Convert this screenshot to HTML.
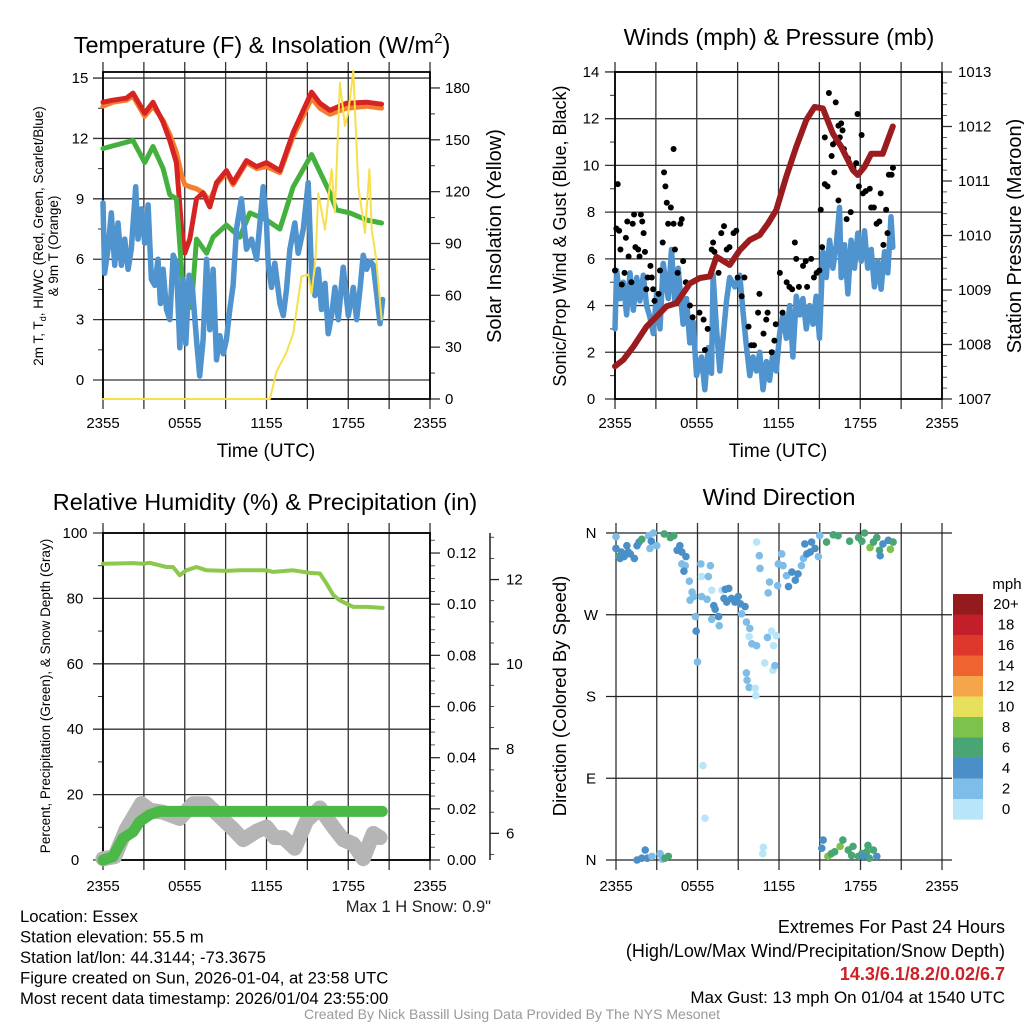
<!DOCTYPE html>
<html><head><meta charset="utf-8"><style>
html,body{margin:0;padding:0;background:#fff;}
svg{display:block;font-family:"Liberation Sans",Arial,sans-serif;}
</style></head><body>
<svg id="fig" width="1024" height="1024" viewBox="0 0 1024 1024" xmlns="http://www.w3.org/2000/svg"></svg>
<script>
// ---------- DATA ----------
// Panel 1: temperature (F) and insolation
const tRedTime=[0,0.73,1.71,2.2,3.06,3.67,4.41,4.9,5.39,5.76,6.0,6.37,6.86,7.35,7.84,8.33,9.06,9.55,10.53,11.27,12.0,12.98,13.96,15.31,15.92,16.65,17.88,19.35,20.45];
const tRedVal=[13.8,13.9,14.0,14.25,13.25,13.8,12.8,11.9,10.8,7.6,6.3,7.0,9.0,9.3,8.6,9.8,10.4,9.8,10.9,10.6,10.8,10.4,12.3,14.3,13.75,13.4,13.75,13.8,13.7];
const tOrangeVal=[13.6,13.8,13.9,14.1,13.1,13.6,12.9,12.2,11.3,10.2,9.7,9.6,9.5,9.3,8.9,9.7,10.3,9.7,10.8,10.5,10.6,10.3,12.1,14.0,13.5,13.2,13.5,13.6,13.5];
const tdTime=[0,2.2,3.06,3.67,4.41,4.9,5.39,5.88,6.49,6.86,7.6,8.08,9.06,10.04,10.78,12.0,12.98,13.96,15.31,16.65,17.14,18.12,19.35,20.45];
const tdVal=[11.5,11.9,10.8,11.6,10.5,9.2,9.0,4.5,3.6,7.0,6.3,7.1,7.7,7.1,8.3,7.95,7.5,9.6,11.2,9.3,8.45,8.3,7.95,7.8];
const wcTime=[0,0.12,0.37,0.61,0.86,1.1,1.35,1.59,1.84,2.08,2.4,2.57,2.82,3.06,3.31,3.55,3.8,4.04,4.21,4.41,4.66,4.9,5.15,5.39,5.64,5.88,6.08,6.32,6.57,6.86,7.1,7.35,7.6,7.84,8.08,8.33,8.58,8.82,9.06,9.31,9.55,9.8,10.16,10.53,10.9,11.27,11.76,12.0,12.12,12.37,12.61,12.98,13.23,13.47,13.72,14.08,14.33,14.7,15.06,15.31,15.55,15.8,16.04,16.29,16.53,16.78,17.02,17.27,17.63,18.0,18.37,18.61,18.86,19.1,19.35,19.6,19.84,20.08,20.33,20.52];
const wcVal=[8.8,5.3,6.5,8.3,5.7,7.8,5.7,7,5.5,6.5,9.6,7,8.5,6.8,8.7,5,4.7,6,3.8,5.5,3.5,3,6.2,5.8,1.6,5.0,1.8,5.2,4.5,2,0.2,2,6,2.5,5.5,1,2.2,1.3,2,3.5,4.7,7.5,9,6.5,7,6,9.6,7.8,5.8,4.6,5.8,3.8,3.2,4.5,6.5,7.8,6.3,7.5,9.8,5.2,4.2,5.5,3.5,4.8,2.3,3.2,4.6,3,5.6,3.2,4.6,3,4.5,6.2,5.5,5.9,5.7,4.3,2.8,4];
const solTime=[0,12.25,12.74,13.47,13.96,14.57,15.06,15.31,15.6,15.8,16.29,16.78,17.02,17.39,17.76,18.0,18.37,18.74,19.23,19.55,19.72,20.05,20.45];
const solVal=[0,0,16,27,38,71,72,61,81,119,98,133,108,183,158,166,190,123,96,133,98,81,46];
const tempTicks=[0,3,6,9,12,15];
const solTicks=[0,30,60,90,120,150,180];
const timeTickLabels=["2355","","0555","","1155","","1755","","2355"];

// Panel 2: winds and pressure
const presTime=[0,0.61,1.34,2.32,2.93,3.78,4.52,5.49,6.23,6.96,7.45,8.42,9.16,9.89,10.62,11.23,11.84,12.57,13.31,14.04,14.65,15.26,15.99,16.6,17.46,17.82,18.31,18.8,19.65,20.39];
const presVal=[1007.6,1007.72,1007.96,1008.33,1008.48,1008.7,1008.76,1009.12,1009.22,1009.25,1009.61,1009.46,1009.73,1009.92,1010.01,1010.22,1010.47,1011.08,1011.63,1012.12,1012.36,1012.33,1011.87,1011.63,1011.2,1011.11,1011.26,1011.5,1011.5,1012.0];
const windTime=[0,0.12,0.37,0.61,0.85,1.1,1.34,1.59,1.83,2.08,2.32,2.56,2.81,3.05,3.3,3.54,3.91,4.15,4.39,4.64,5.0,5.25,5.49,5.74,5.98,6.35,6.59,6.84,7.08,7.2,7.45,7.69,7.93,8.18,8.42,8.79,9.16,9.4,9.64,9.89,10.13,10.38,10.62,10.86,11.11,11.35,11.6,11.84,12.08,12.33,12.57,12.82,13.06,13.31,13.55,13.79,14.04,14.28,14.53,14.77,15.01,15.26,15.5,15.75,15.99,16.24,16.48,16.6,16.85,17.09,17.33,17.58,17.82,18.07,18.31,18.55,18.8,19.04,19.29,19.53,19.78,20.02,20.26,20.39];
const windVal=[3.0,5.5,4.3,5.0,3.6,5.4,3.8,5.2,4.2,5.3,4.0,3.5,2.8,4.5,3.0,5.8,4.3,6.4,4.2,5.6,3.2,4.3,2.4,3.3,1.0,1.8,0.4,2.2,1.1,5.3,3.0,1.2,2.6,4.2,5.2,4.8,5.3,3.7,2.3,1.0,1.8,1.2,2.0,0.4,1.6,0.8,2.0,1.2,2.8,3.6,2.6,4.0,1.8,4.4,3.6,4.3,3.0,4.0,3.2,4.4,2.6,6.3,5.2,6.8,5.6,6.6,8.2,5.2,6.6,4.5,6.8,5.6,7.1,5.9,7.2,5.6,6.4,4.8,5.9,4.7,6.3,5.4,7.8,6.5];
const gustTime=[0,0.1,0.2,0.3,0.4,0.5,0.7,0.8,0.9,1.0,1.2,1.3,1.4,1.5,1.7,1.8,1.9,2.0,2.1,2.2,2.3,2.4,2.6,2.7,2.8,2.9,3.2,3.3,3.5,3.6,3.7,3.8,3.9,4.1,4.3,4.3,4.4,4.6,4.8,4.9,5.0,5.2,5.5,5.7,6.2,6.5,6.6,6.8,7.1,7.2,7.3,7.6,7.8,8.0,8.2,8.4,8.7,8.9,9.0,9.3,9.5,9.8,10.0,10.2,10.5,10.6,10.9,11.1,11.2,11.5,11.7,11.8,12.1,12.3,12.6,12.8,13.0,13.2,13.3,13.5,13.8,14.0,14.1,14.4,14.6,14.8,15.0,15.1,15.2,15.4,15.4,15.6,15.7,15.9,16.0,16.1,16.2,16.2,16.4,16.4,16.5,16.6,16.7,16.8,17.0,17.1,17.3,17.5,17.7,17.8,17.9,18.1,18.2,18.4,18.7,18.8,19.0,19.2,19.4,19.5,19.7,19.9,20.0,20.1,20.3,20.4];
const gustVal=[5.5,7.3,9.2,7.2,6.4,4.9,5.4,6.9,7.6,6.1,5.0,7.5,7.9,6.5,6.4,6.1,7.9,7.6,7.1,6.3,4.7,5.2,5.7,5.2,4.7,4.2,4.5,5.5,6.7,9.7,9.1,8.4,7.5,8.2,7.5,10.7,6.4,5.4,7.5,7.7,5.9,5.0,4.0,3.5,3.7,3.4,2.1,3.0,6.4,6.7,6.3,5.4,7.1,7.4,6.4,6.5,7.1,7.2,5.2,4.4,5.2,3.1,2.3,2.3,3.7,4.5,2.8,3.4,3.7,2.0,2.5,3.2,5.4,3.7,5.0,4.8,4.7,6.7,6.0,4.8,5.7,5.9,4.8,6.0,5.2,5.4,5.5,8.1,6.5,11.2,9.2,9.1,13.1,10.4,10.9,9.7,11.0,12.7,11.7,8.5,11.2,11.8,11.5,10.7,7.7,10.3,8.0,9.9,10.1,12.2,9.1,11.3,8.8,8.9,9.0,8.2,8.2,7.5,7.6,8.8,6.6,8.1,7.1,9.6,9.6,9.9];
const windTicks=[0,2,4,6,8,10,12,14];
const presTicks=[1007,1008,1009,1010,1011,1012,1013];

// Panel 3: RH, precip, snow depth
const rhTime=[0,2.2,2.94,3.43,4.65,5.14,5.63,6.12,6.86,7.59,9.06,10.04,12.0,12.49,13.96,15.18,15.92,16.41,16.9,17.39,18.37,19.35,20.52];
const rhVal=[90.6,90.8,90.6,90.9,89.6,89.6,87.1,88.6,89.6,88.6,88.4,88.6,88.6,88.1,88.6,87.8,87.6,84.5,81,79.4,77.4,77.4,77.1];
const prTime=[0,0.73,1.47,2.2,2.69,3.43,4.16,20.5];
const prVal=[0,0.0013,0.0085,0.011,0.015,0.0177,0.019,0.019];
const snTime=[0,0.86,1.71,2.82,3.43,4.41,5.63,6.61,7.59,8.57,9.55,10.29,11.27,12.0,12.61,13.23,14.08,14.94,15.92,16.9,17.63,18.37,19.1,19.84,20.33];
const snVal=[5.4,5.45,6.1,6.7,6.55,6.5,6.35,6.7,6.7,6.4,6.1,5.85,6.05,6.15,5.9,5.9,5.65,6.3,6.6,6.15,5.85,5.75,5.4,6.0,5.9];
const rhTicks=[0,20,40,60,80,100];
const prTicks=[0,0.02,0.04,0.06,0.08,0.10,0.12];
const prTickLabels=["0.00","0.02","0.04","0.06","0.08","0.10","0.12"];
const snTicks=[6,8,10,12];

// Panel 4: wind direction
const wdTime=[0,0,0.2,0.3,0.4,0.6,0.8,0.9,1.05,1.35,1.55,1.7,1.9,2.4,2.5,2.6,2.75,3.0,3.55,4.0,4.25,4.5,4.7,4.85,5.15,4.85,5.1,5.0,5.4,5.6,5.7,5.45,5.85,5.9,6.0,6.25,6.3,6.3,6.7,6.8,6.95,7.05,7.2,7.05,7.3,7.55,7.6,7.8,8.05,8.3,7.95,8.15,8.5,8.75,9.0,9.15,9.25,9.5,9.6,9.85,9.8,10.0,10.35,9.6,9.65,9.8,10.25,10.3,10.55,10.6,11.3,11.2,11.15,11.45,11.8,11.6,10.95,11.55,11.7,11.9,11.95,12.2,12.3,12.55,12.7,12.95,13.2,13.4,13.65,13.8,13.9,14.05,14.3,14.4,14.65,14.9,15.0,15.5,16.0,16.35,17.2,17.85,18.1,18.3,18.7,18.95,19.2,19.4,19.45,19.65,20.05,20.2,20.4,10.35,1.55,1.9,2.15,2.3,2.65,3.25,3.4,3.6,3.85,6.4,6.55,10.8,10.85,15.25,15.15,15.6,15.85,16.1,16.5,16.7,17.1,17.35,17.45,17.85,18.1,18.45,18.55,18.65,18.95,19.2,18.2];
const wdDir=[356,343,334,332,339,334,346,339,337,332,346,350,353,357,343,351,360,346,359,355,357,341,346,339,334,326,324,318,307,295,290,286,268,252,218,326,312,290,287,312,324,297,280,265,276,268,258,297,298,299,288,284,288,284,290,282,271,279,262,255,246,238,236,206,198,190,189,181,335,321,306,294,245,252,247,236,217,209,214,302,326,337,324,313,301,317,308,315,324,332,348,337,339,350,343,334,357,350,358,357,351,355,351,360,344,350,355,341,335,348,352,342,350,350,0,2,11,2,4,7,1,2,4,104,46,7,14,22,13,4,7,9,15,22,11,5,15,4,7,9,16,2,11,4,4];
const wdSpeed=[3,5,7,5,5,5,5,5,5,5,5,5,7,3,3,5,3,3,7,7,7,5,5,5,5,3,3,5,3,3,3,3,3,5,3,3,1,3,3,3,3,1,5,3,5,5,3,1,5,5,5,5,5,5,5,5,3,5,3,3,1,3,3,3,3,3,1,1,3,3,3,3,3,1,1,1,1,1,3,3,3,3,3,3,5,5,5,5,3,3,5,5,5,5,5,3,3,7,7,7,7,7,7,7,9,7,7,7,5,5,5,9,7,1,5,5,5,5,3,3,3,7,7,1,1,1,1,5,5,9,7,7,9,7,7,7,7,7,7,7,7,7,7,5,5];
const dirTicks=[0,90,180,270,360];
const dirTickLabels=["N","E","S","W","N"];
const cbLabels=["20+","18","16","14","12","10","8","6","4","2","0"];
const cbColors=["#931a1d","#c21f2a","#dd382b","#ee6330","#f5a64a","#e6e05c","#7cc24b","#49a573","#4a8fc8","#7ebde7","#b8e5f8"];

// ---------- DRAWING ----------
const svg=document.getElementById('fig');
const NS='http://www.w3.org/2000/svg';
const TICK=15;
function mk(tag,attrs,parent){const e=document.createElementNS(NS,tag);for(const k in attrs)e.setAttribute(k,attrs[k]);(parent||svg).appendChild(e);return e;}
function txt(s,x,y,size,anchor,parent,extra){const e=mk('text',Object.assign({x:x,y:y,'font-size':size,'text-anchor':anchor||'middle',fill:'#000'},extra||{}),parent);e.textContent=s;return e;}
function lin(x1,y1,x2,y2,st,w,parent){return mk('line',{x1:x1,y1:y1,x2:x2,y2:y2,stroke:st,'stroke-width':w},parent);}
function poly(xs,ys,sx,sy,col,w,parent){let d='';for(let i=0;i<xs.length;i++){d+=(i?'L':'M')+sx(xs[i]).toFixed(1)+','+sy(ys[i]).toFixed(1);}return mk('path',{d:d,fill:'none',stroke:col,'stroke-width':w,'stroke-linejoin':'round','stroke-linecap':'round'},parent);}

function timeAxis(g,x0,x1,yBot,yTop,labY){
  const sx=h=>x0+(x1-x0)*h/24;
  for(let i=0;i<=8;i++){
    const x=sx(i*3);
    const l=lin(x,yTop-10,x,yBot+10,'#333',1.3,g);
    
    
    if(timeTickLabels[i]){
      const t=txt(timeTickLabels[i],x,labY,TICK,'middle',g);
      
      
    }
  }
  return sx;
}

// ===== Panel 1 =====
(function(){
  const g=mk('g',{});
  
  
  const X0=103,X1=430,YT=72,YB=399;
  const sy=v=>380-v*20.13;
  const sy2=v=>399-v*1.728;
  const sx=timeAxis(g,X0,X1,YB,YT,428);
  tempTicks.forEach(v=>{const y=sy(v);lin(X0-10,y,X1,y,'#333',1.3,g);const t=txt(String(v),80,y+5,TICK,'middle',g);});
  for(let v=1.5;v<15;v+=3){lin(X0-5,sy(v),X0,sy(v),'#333',1,g);}
  solTicks.forEach(v=>{const y=sy2(v);lin(X1,y,X1+10,y,'#333',1.3,g);const t=txt(String(v),445,y+5,TICK,'start',g);});
  for(let v=15;v<190;v+=30){lin(X1,sy2(v),X1+5,sy2(v),'#333',1,g);}
  mk('rect',{x:X0,y:YT,width:X1-X0,height:YB-YT,fill:'none',stroke:'#000','stroke-width':1.8},g);
  const o=poly(tRedTime,tOrangeVal,sx,sy,'#f47e2d',5,g);
  const r=poly(tRedTime,tRedVal,sx,sy,'#d62424',5,g);
  const gr=poly(tdTime,tdVal,sx,sy,'#44b13f',5,g);
  const b=poly(wcTime,wcVal,sx,sy,'#4f93cf',5.5,g);
  const s=poly(solTime,solVal,sx,sy2,'#f7e04a',2,g);
  const ti=txt('Temperature (F) & Insolation (W/m',262,53,23.5,'middle',g);
  const sup=mk('tspan',{dy:-10,'font-size':15},ti);sup.textContent='2';
  const cl=mk('tspan',{dy:10},ti);cl.textContent=')';
  
  const xl=txt('Time (UTC)',266,457,19,'middle',g);
  const yl=mk('text',{transform:'translate(43,236) rotate(-90)','font-size':13.5,'text-anchor':'middle'},g);
  yl.innerHTML='2m T, T<tspan font-size="9" dy="3">d</tspan><tspan dy="-3">, HI/WC (Red, Green, Scarlet/Blue)</tspan>';
  
  const yl2=txt('& 9m T (Orange)',0,0,13.5,'middle',g,{transform:'translate(58,246) rotate(-90)'});
  
  const yr=txt('Solar Insolation (Yellow)',0,0,20,'middle',g,{transform:'translate(501,236) rotate(-90)'});
  
})();

// ===== Panel 2 =====
(function(){
  const g=mk('g',{});
  
  
  const X0=615,X1=942,YT=72,YB=399;
  const sy=v=>399-v*23.36;
  const sy2=p=>399-(p-1007)*54.5;
  const sx=timeAxis(g,X0,X1,YB,YT,428);
  windTicks.forEach(v=>{const y=sy(v);lin(X0-10,y,X1,y,'#333',1.3,g);const t=txt(String(v),591,y+5,TICK,'middle',g);});
  for(let v=1;v<14;v+=2){lin(X0-5,sy(v),X0,sy(v),'#333',1,g);}
  presTicks.forEach(p=>{const y=sy2(p);lin(X1,y,X1+10,y,'#333',1.3,g);const t=txt(String(p),958,y+5,TICK,'start',g);});
  for(let p=1007.2;p<1013;p+=0.2){lin(X1,sy2(p),X1+5,sy2(p),'#333',0.8,g);}
  mk('rect',{x:X0,y:YT,width:X1-X0,height:YB-YT,fill:'none',stroke:'#000','stroke-width':1.8},g);
  const w=poly(windTime,windVal,sx,sy,'#4f93cf',5.5,g);
  gustTime.forEach((t,i)=>{
    const c=mk('circle',{cx:sx(t),cy:sy(gustVal[i]),r:3,fill:'#000'},g);
    
    
  });
  const p=poly(presTime,presVal,sx,sy2,'#9a1c1f',6,g);
  const ti=txt('Winds (mph) & Pressure (mb)',779,45,23.5,'middle',g);
  const xl=txt('Time (UTC)',778,457,19,'middle',g);
  const yl=txt('Sonic/Prop Wind & Gust (Blue, Black)',0,0,18,'middle',g,{transform:'translate(566,236) rotate(-90)'});
  const yr=txt('Station Pressure (Maroon)',0,0,20,'middle',g,{transform:'translate(1021,236) rotate(-90)'});
})();

// ===== Panel 3 =====
(function(){
  const g=mk('g',{});
  
  
  const X0=103,X1=430,YT=533,YB=860;
  const sy=v=>860-v*3.27;
  const sp=v=>860-v*2558;
  const ss=v=>860-(v-5.37)*42.3;
  const sx=timeAxis(g,X0,X1,YB,YT,891);
  rhTicks.forEach(v=>{const y=sy(v);lin(X0-10,y,X1,y,'#333',1.3,g);const t=txt(String(v),75,y+5,TICK,'middle',g);});
  for(let v=10;v<100;v+=20){lin(X0-5,sy(v),X0,sy(v),'#333',1,g);}
  prTicks.forEach((v,i)=>{const y=sp(v);lin(X1,y,X1+10,y,'#333',1.3,g);const t=txt(prTickLabels[i],447,y+5,TICK,'start',g);});
  for(let v=0.005;v<0.127;v+=0.005){lin(X1,sp(v),X1+5,sp(v),'#333',0.8,g);}
  lin(490,533,490,860,'#222',1.5,g);
  snTicks.forEach(v=>{const y=ss(v);lin(490,y,499,y,'#222',1.3,g);const t=txt(String(v),506,y+5,TICK,'start',g);});
  for(let v=5.5;v<13.1;v+=0.5){if(v%2!==0)lin(490,ss(v),494,ss(v),'#222',0.8,g);}
  mk('rect',{x:X0,y:YT,width:X1-X0,height:YB-YT,fill:'none',stroke:'#000','stroke-width':1.8},g);
  const sn=poly(snTime,snVal,sx,ss,'#b5b5b5',15,g);
  const pr=poly(prTime,prVal,sx,sp,'#4cb848',11,g);
  const rh=poly(rhTime,rhVal,sx,sy,'#8cc84b',4,g);
  const ti=txt('Relative Humidity (%) & Precipitation (in)',265,510,23.5,'middle',g);
  const yl=txt('Percent, Precipitation (Green), & Snow Depth (Gray)',0,0,13.5,'middle',g,{transform:'translate(50,696) rotate(-90)'});
  const ms=txt('Max 1 H Snow: 0.9"',491,912,16.5,'end',g,{fill:'#222'});
})();

// ===== Panel 4 =====
(function(){
  const g=mk('g',{});
  
  
  const X0=616,X1=942,YT=533,YB=860;
  const sy=d=>860-d/360*327;
  const sx=timeAxis(g,X0,X1,YB,YT,891);
  dirTicks.forEach((d,i)=>{const y=sy(d);lin(X0-10,y,X1+10,y,'#222',1.3,g);const t=txt(dirTickLabels[i],591,y+5,TICK,'middle',g);});
  function col(s){let k=Math.floor(s/2);if(k>10)k=10;return cbColors[10-k];}
  wdTime.forEach((t,i)=>{
    const c=mk('circle',{cx:sx(t),cy:sy(wdDir[i]),r:3.8,fill:col(wdSpeed[i])},g);
    
    
  });
  const ti=txt('Wind Direction',779,505,23.5,'middle',g);
  const yl=txt('Direction (Colored By Speed)',0,0,18.5,'middle',g,{transform:'translate(566,696) rotate(-90)'});
  const lg=mk('g',{},g);
  
  
  const mph=txt('mph',1007,589,15,'middle',lg);
  cbColors.forEach((c,i)=>{
    const r=mk('rect',{x:953,y:594+i*20.5,width:30,height:20.6,fill:c},lg);
    
    
    const t=txt(cbLabels[i],1006,594+i*20.5+15,15,'middle',lg);
    
    
  });
})();

// ===== Footer text =====
(function(){
  const g=mk('g',{});
  
  
  const left=['Location: Essex','Station elevation: 55.5 m','Station lat/lon: 44.3144; -73.3675','Figure created on Sun, 2026-01-04, at 23:58 UTC','Most recent data timestamp: 2026/01/04 23:55:00'];
  left.forEach((s,i)=>{const t=txt(s,20,922+i*20.5,16.7,'start',g);});
  const a=txt('Extremes For Past 24 Hours',1005,933,18,'end',g);
  const b=txt('(High/Low/Max Wind/Precipitation/Snow Depth)',1005,957,18,'end',g);
  const c=txt('14.3/6.1/8.2/0.02/6.7',1005,980,18,'end',g,{fill:'#cc2127','font-weight':'bold'});
  const d=txt('Max Gust: 13 mph On 01/04 at 1540 UTC',1005,1003,17,'end',g);
  const e=txt('Created By Nick Bassill Using Data Provided By The NYS Mesonet',512,1019,14,'middle',g,{fill:'#999'});
})();
</script>
</body></html>
